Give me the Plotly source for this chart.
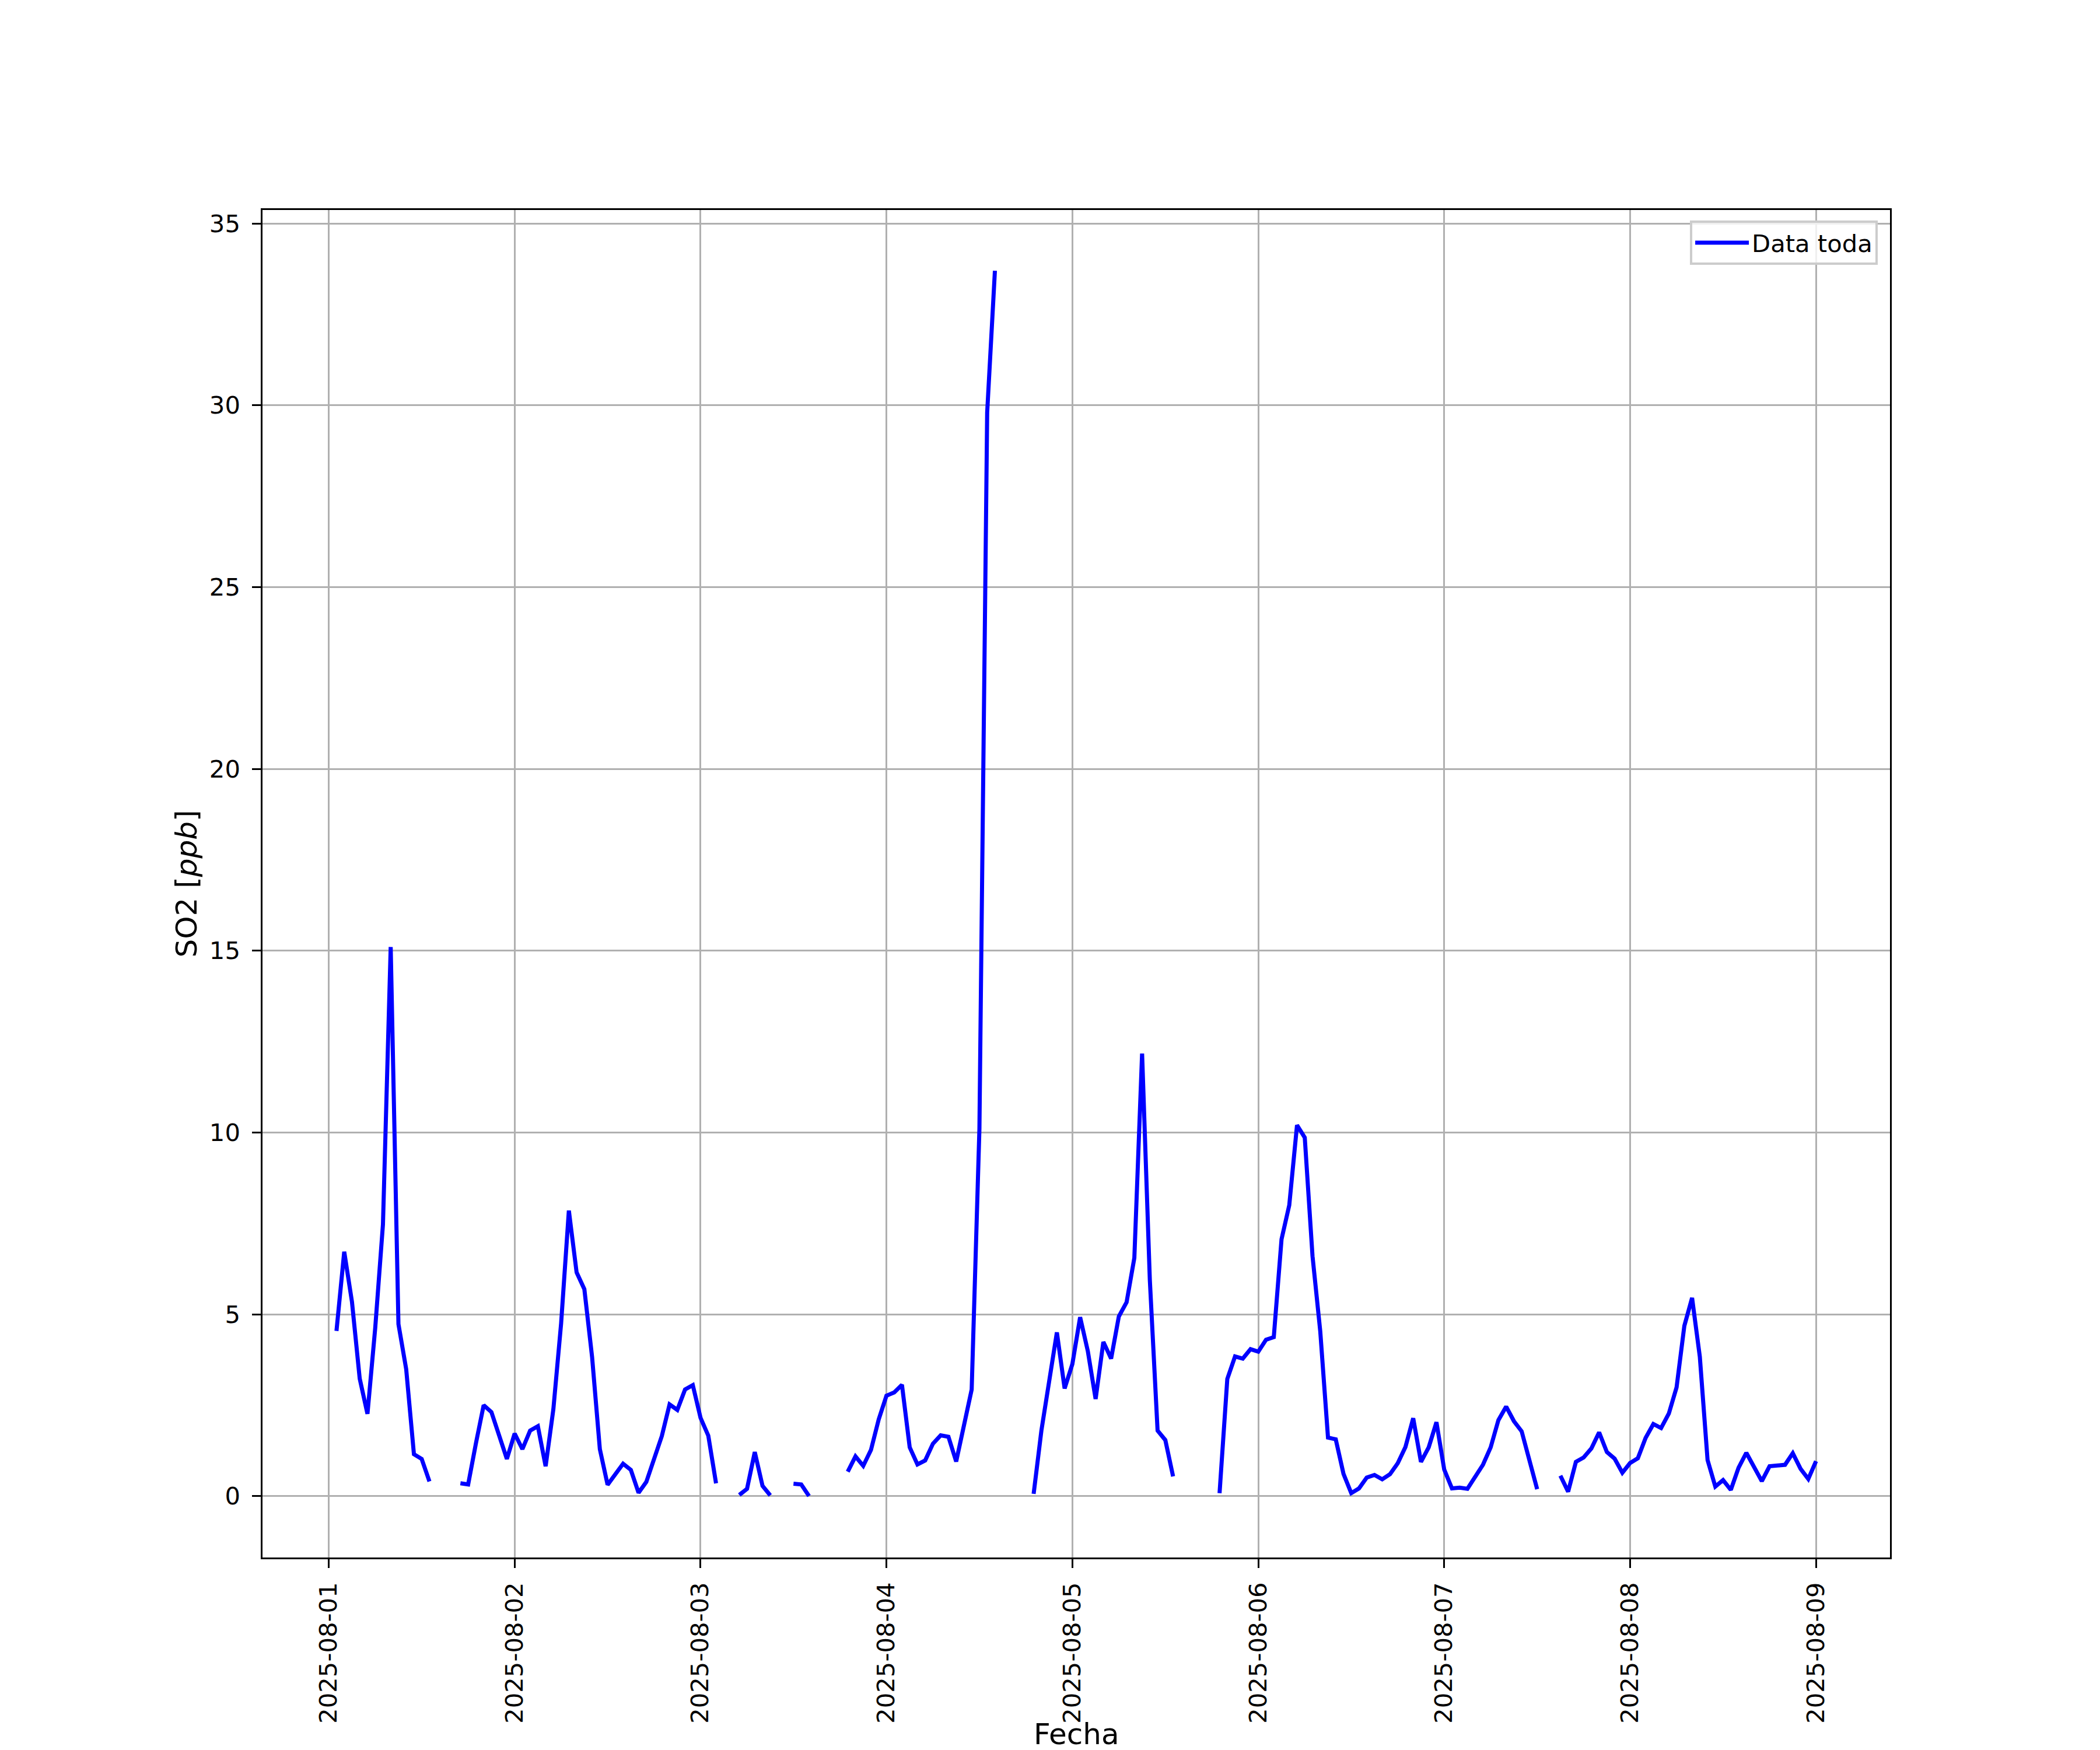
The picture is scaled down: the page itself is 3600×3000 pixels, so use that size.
import pandas as pd
import plotly.graph_objects as go

# Hourly SO2 values (ppb), one list per day, None = missing
day_2025_08_01 = [None, 4.54, 6.72, 5.34, 3.23, 2.26, 4.62, 7.47, 15.1, 4.73, 3.49, 1.15,
                  1.02, 0.40, None, None, None, 0.35, 0.32, 1.45, 2.50, 2.31, 1.67, 1.02]
day_2025_08_02 = [1.72, 1.29, 1.80, 1.92, 0.82, 2.39, 4.75, 7.85, 6.15, 5.69, 3.82, 1.29,
                  0.31, 0.62, 0.89, 0.72, 0.09, 0.39, 0.99, 1.65, 2.52, 2.37, 2.93, 3.05]
day_2025_08_03 = [2.15, 1.66, 0.35, None, None, 0.03, 0.20, 1.21, 0.28, 0.02, None, None,
                  0.34, 0.32, 0.0, None, None, None, None, 0.67, 1.09, 0.83, 1.27, 2.11]
day_2025_08_04 = [2.76, 2.85, 3.06, 1.34, 0.87, 0.98, 1.44, 1.67, 1.63, 0.95, 2.00, 2.93,
                  10.1, 29.8, 33.7, None, None, None, None, 0.06, 1.80, 3.15, 4.50, 2.96]
day_2025_08_05 = [3.63, 4.92, 3.98, 2.67, 4.24, 3.78, 4.94, 5.33, 6.55, 12.17, 5.94, 1.80,
                  1.54, 0.54, None, None, None, None, None, 0.08, 3.22, 3.84, 3.78, 4.04]
day_2025_08_06 = [3.97, 4.30, 4.37, 7.06, 8.00, 10.2, 9.86, 6.60, 4.53, 1.61, 1.56, 0.61,
                  0.08, 0.21, 0.51, 0.58, 0.46, 0.60, 0.90, 1.35, 2.14, 0.94, 1.34, 2.03]
day_2025_08_07 = [0.73, 0.21, 0.23, 0.20, 0.51, 0.86, 1.34, 2.09, 2.46, 2.06, 1.78, 0.99,
                  0.19, None, None, 0.56, 0.12, 0.94, 1.06, 1.31, 1.75, 1.21, 1.03, 0.64]
day_2025_08_08 = [0.91, 1.04, 1.60, 1.98, 1.87, 2.27, 2.99, 4.68, 5.45, 3.83, 0.99, 0.26,
                  0.44, 0.17, 0.78, 1.19, 0.78, 0.41, 0.82, 0.84, 0.86, 1.18, 0.75, 0.47]
day_2025_08_09 = [0.96]

so2_values = (day_2025_08_01 + day_2025_08_02 + day_2025_08_03 + day_2025_08_04 +
              day_2025_08_05 + day_2025_08_06 + day_2025_08_07 + day_2025_08_08 +
              day_2025_08_09)
fechas = pd.date_range("2025-08-01 00:00", periods=len(so2_values), freq="h")

tick_dates = pd.date_range("2025-08-01", "2025-08-09", freq="D")
tick_labels = [d.strftime("%Y-%m-%d") for d in tick_dates]
y_ticks = [0, 5, 10, 15, 20, 25, 30, 35]

FONT = "DejaVu Sans"
TICK_PX = 41.7
LABEL_PX = 50

fig = go.Figure()
fig.add_trace(go.Scatter(
    x=fechas, y=so2_values, mode="lines", name="Data toda",
    line=dict(color="#0000ff", width=7), connectgaps=False,
))

axis_common = dict(
    showline=True, linecolor="black", linewidth=3.3, mirror=True,
    ticks="outside", ticklen=14.6, tickwidth=3.3, tickcolor="black",
    showgrid=True, gridcolor="#b0b0b0", gridwidth=3.3, zeroline=False,
    tickfont=dict(family=FONT, size=TICK_PX, color="black"),
)

fig.update_layout(
    width=3600, height=3000,
    margin=dict(l=442, r=368, t=352, b=338, pad=0),
    paper_bgcolor="white", plot_bgcolor="white",
    font=dict(family=FONT, color="black"),
    xaxis=dict(
        **axis_common,
        ticklabelstandoff=8,
        range=["2025-07-31 15:27", "2025-08-09 09:33"],
        tickvals=tick_dates, ticktext=tick_labels, tickangle=-90,
        automargin=False,
    ),
    yaxis=dict(
        **axis_common,
        ticklabelstandoff=12,
        range=[-1.69, 35.37],
        tickvals=y_ticks, ticktext=[str(v) for v in y_ticks],
        title=dict(text="SO2 [<i>ppb</i>]", font=dict(family=FONT, size=LABEL_PX), standoff=6),
        automargin=False,
    ),
    showlegend=True,
    legend=dict(
        x=0.9925, y=0.992, xanchor="right", yanchor="top",
        bgcolor="rgba(255,255,255,0.8)", bordercolor="#cccccc", borderwidth=4,
        font=dict(family=FONT, size=TICK_PX, color="black"),
        itemwidth=92,
    ),
    annotations=[dict(
        text="Fecha", xref="paper", yref="paper", x=0.5, y=-0.131,
        xanchor="center", yanchor="middle", showarrow=False,
        font=dict(family=FONT, size=LABEL_PX, color="black"),
    )],
)

fig.write_html("out.html")
